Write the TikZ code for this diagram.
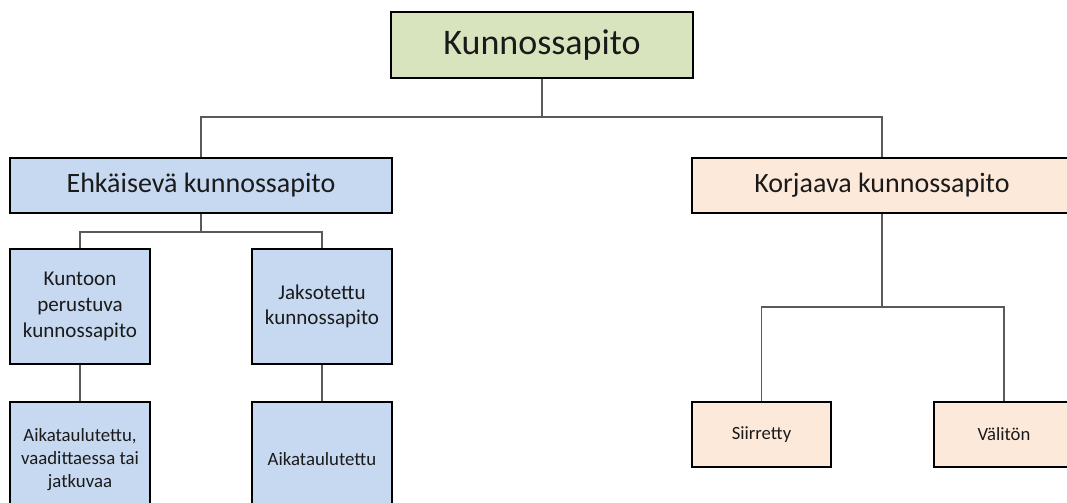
\documentclass[tikz,border=0pt]{standalone}
\usepackage{fontspec}
\setmainfont{Carlito}
\definecolor{topgreen}{HTML}{D7E4BD}
\definecolor{boxblue}{HTML}{C6D9F1}
\definecolor{boxpeach}{HTML}{FDE9D9}
\definecolor{conn}{HTML}{5A5A5A}
\definecolor{txt}{HTML}{1A1A1A}
\tikzset{
  box/.style={draw=black, line width=1.1pt, rectangle, align=center, text=txt, inner sep=2pt},
  link/.style={draw=conn, line width=0.8pt},
}
\begin{document}
\begin{tikzpicture}[x=0.75pt, y=-0.75pt]
\useasboundingbox (0,0) rectangle (1067,503);
\clip (0,0) rectangle (1067,503);
% nodes
\node[box, fill=topgreen, minimum width=226.5pt, minimum height=49.5pt, font=\fontsize{27}{32}\selectfont] (top) at (542,45) {Kunnossapito};
\node[box, fill=boxblue, minimum width=286.5pt, minimum height=41.25pt, font=\fontsize{21}{25}\selectfont] (ehk) at (201,185.5) {Ehkäisevä kunnossapito};
\node[box, fill=boxpeach, minimum width=285pt, minimum height=41.25pt, font=\fontsize{21}{25}\selectfont] (korj) at (882,185.5) {Korjaava kunnossapito};
\node[box, fill=boxblue, minimum width=105pt, minimum height=86.25pt, font=\fontsize{15.8}{19.3}\selectfont] (kun) at (80,306.5) {Kuntoon\\perustuva\\kunnossapito};
\node[box, fill=boxblue, minimum width=105pt, minimum height=86.25pt, font=\fontsize{15.8}{19.3}\selectfont] (jak) at (322,306.5) {Jaksotettu\\kunnossapito};
\node[box, fill=boxblue, minimum width=105pt, minimum height=86.25pt, font=\fontsize{14.1}{17.3}\selectfont] (aik1) at (80,459.5) {Aikataulutettu,\\vaadittaessa tai\\jatkuvaa};
\node[box, fill=boxblue, minimum width=105pt, minimum height=86.25pt, font=\fontsize{14.1}{17.3}\selectfont] (aik2) at (322,459.5) {Aikataulutettu};
\node[box, fill=boxpeach, minimum width=104.25pt, minimum height=48.75pt, font=\fontsize{14}{17}\selectfont] (sii) at (761.5,434.5) {Siirretty};
\node[box, fill=boxpeach, minimum width=105pt, minimum height=48.75pt, font=\fontsize{14}{17}\selectfont] (val) at (1004,434.5) {Välitön};
% junctions
\coordinate (j1) at (542,117);
\coordinate (j2) at (201,232);
\coordinate (j3) at (882,307);
% connectors
\draw[link] (top.south) -- (j1);
\draw[link] (j1) -| (ehk.north);
\draw[link] (j1) -| (korj.north);
\draw[link] (ehk.south) -- (j2);
\draw[link] (j2) -| (kun.north);
\draw[link] (j2) -| (jak.north);
\draw[link] (kun.south) -- (aik1.north);
\draw[link] (jak.south) -- (aik2.north);
\draw[link] (korj.south) -- (j3);
\draw[link] (j3) -| (sii.north);
\draw[link] (j3) -| (val.north);
\end{tikzpicture}
\end{document}
